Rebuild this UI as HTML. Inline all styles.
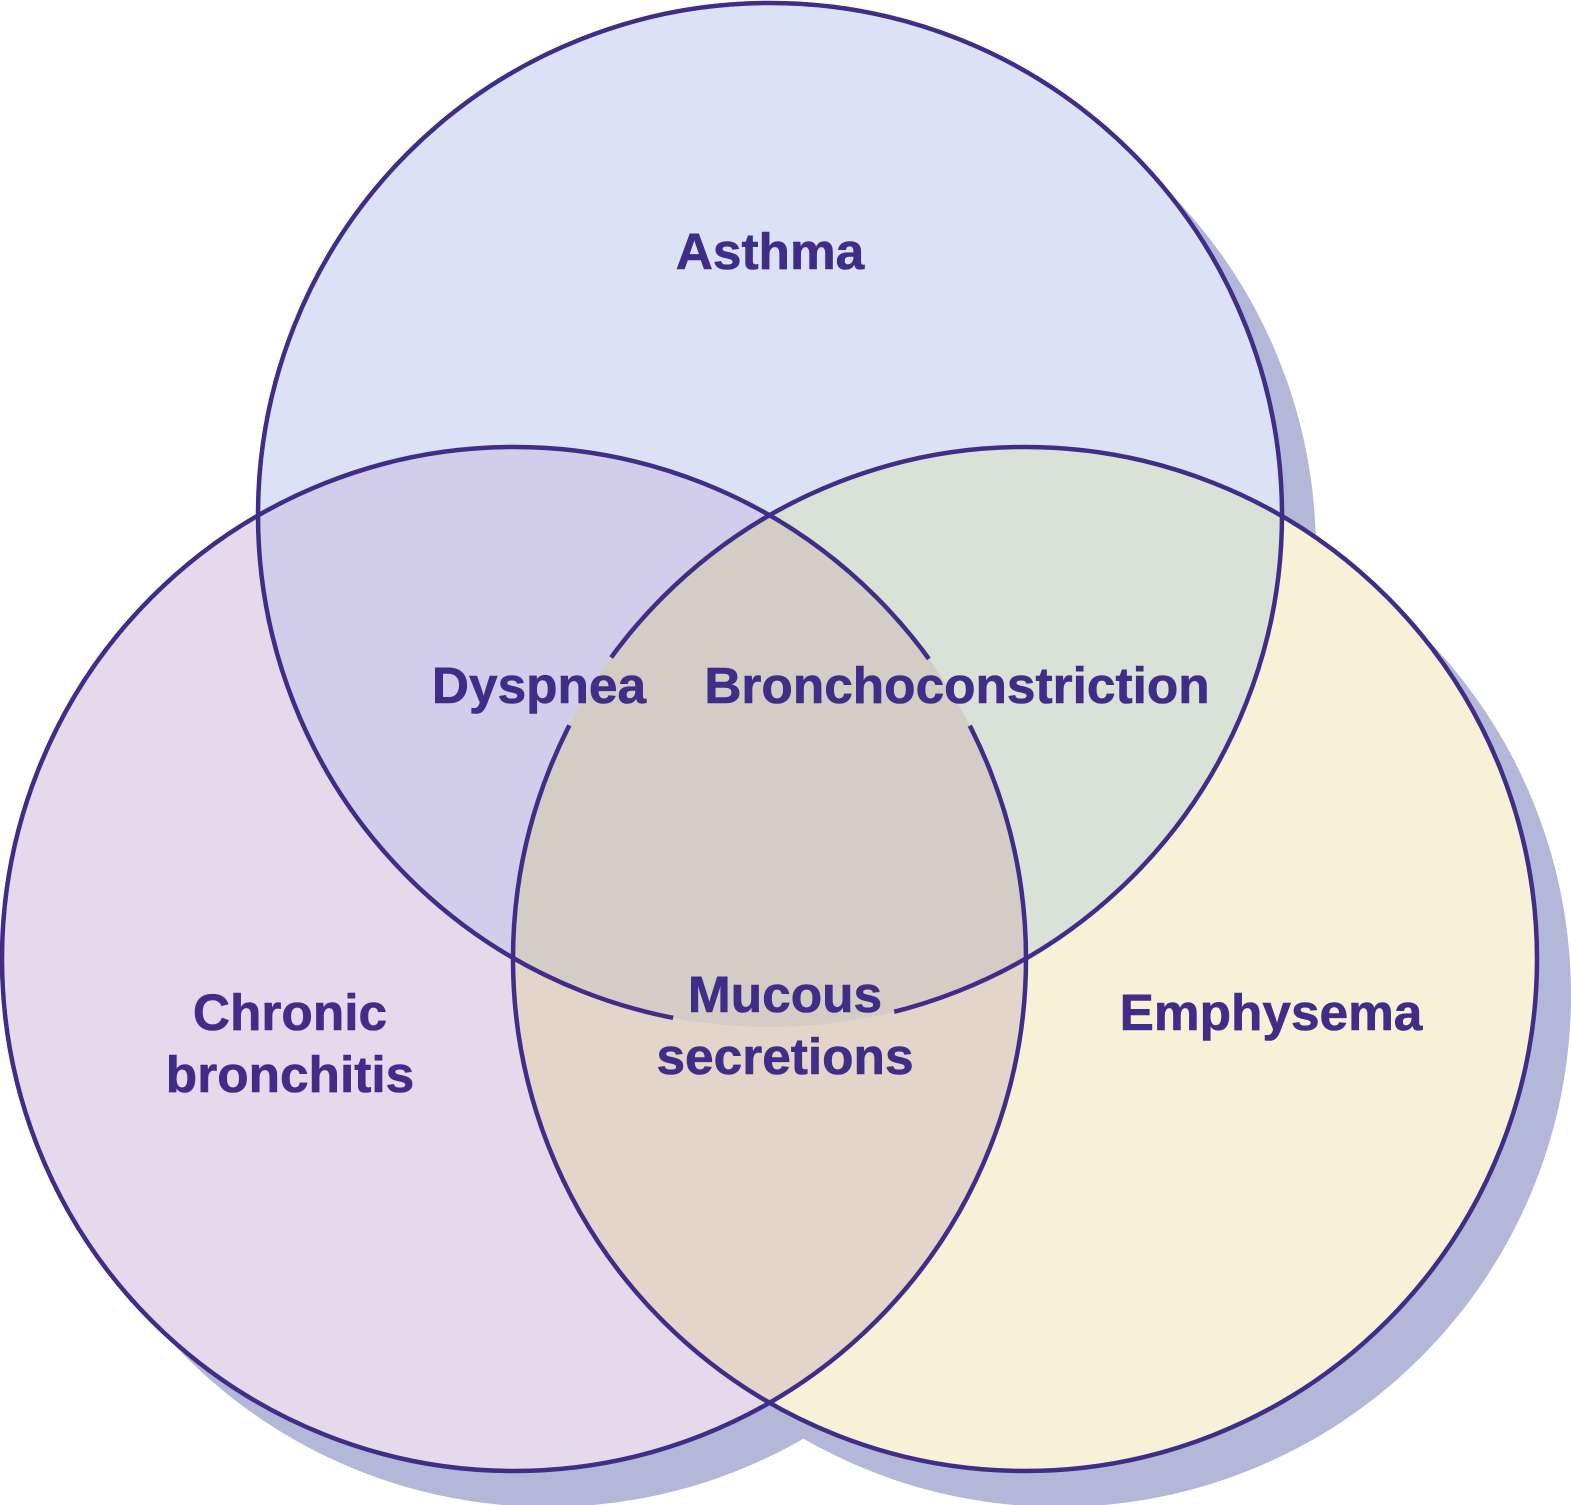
<!DOCTYPE html>
<html>
<head>
<meta charset="utf-8">
<style>
html,body{margin:0;padding:0;background:#fff}
svg{display:block}
text{font-family:"Liberation Sans",Arial,sans-serif;font-weight:700;font-size:51.4px;fill:#3f2d87;stroke:#3f2d87;stroke-width:0.6px;text-anchor:middle}
</style>
</head>
<body>
<svg width="1571" height="1505" viewBox="0 0 1571 1505" xmlns="http://www.w3.org/2000/svg">
<defs>
<clipPath id="t"><circle cx="770" cy="515" r="512"/></clipPath>
<clipPath id="l"><circle cx="514" cy="959" r="512"/></clipPath>
<clipPath id="r"><circle cx="1025" cy="959" r="512"/></clipPath>
<mask id="mt" maskUnits="userSpaceOnUse" x="0" y="0" width="1571" height="1505">
<rect width="1571" height="1505" fill="#fff"/>
<polygon points="770,515 654,1117 919,1111" fill="#000"/>
</mask>
<mask id="ml" maskUnits="userSpaceOnUse" x="0" y="0" width="1571" height="1505">
<rect width="1571" height="1505" fill="#fff"/>
<polygon points="514,959 1013,598 1061,679" fill="#000"/>
</mask>
<mask id="mr" maskUnits="userSpaceOnUse" x="0" y="0" width="1571" height="1505">
<rect width="1571" height="1505" fill="#fff"/>
<polygon points="1025,959 528,597 479,679" fill="#000"/>
</mask>
</defs>
<rect width="1571" height="1505" fill="#fff"/>
<g fill="#b3b8d8">
<circle cx="804" cy="551" r="512"/>
<circle cx="548" cy="995" r="512"/>
<circle cx="1059" cy="995" r="512"/>
</g>
<circle cx="770" cy="515" r="512" fill="#dce2f6"/>
<circle cx="514" cy="959" r="512" fill="#e5d9ec"/>
<circle cx="1025" cy="959" r="512" fill="#f7f1d7"/>
<g clip-path="url(#t)"><circle cx="514" cy="959" r="512" fill="#d1cdea"/></g>
<g clip-path="url(#t)"><circle cx="1025" cy="959" r="512" fill="#dae1d7"/></g>
<g clip-path="url(#l)"><circle cx="1025" cy="959" r="512" fill="#e3d5c9"/></g>
<g clip-path="url(#t)"><g clip-path="url(#l)"><circle cx="1025" cy="959" r="512" fill="#d2cec6"/></g></g>
<g fill="none" stroke="#3f2d87" stroke-width="4.5">
<circle cx="770" cy="515" r="512" mask="url(#mt)"/>
<circle cx="514" cy="959" r="512" mask="url(#ml)"/>
<circle cx="1025" cy="959" r="512" mask="url(#mr)"/>
</g>
<text x="770" y="269">Asthma</text>
<text x="539" y="703">Dyspnea</text>
<text x="957" y="703">Bronchoconstriction</text>
<text x="290" y="1030">Chronic</text>
<text x="290" y="1092">bronchitis</text>
<text x="785" y="1012">Mucous</text>
<text x="785" y="1074">secretions</text>
<text x="1271" y="1030">Emphysema</text>
</svg>
</body>
</html>
